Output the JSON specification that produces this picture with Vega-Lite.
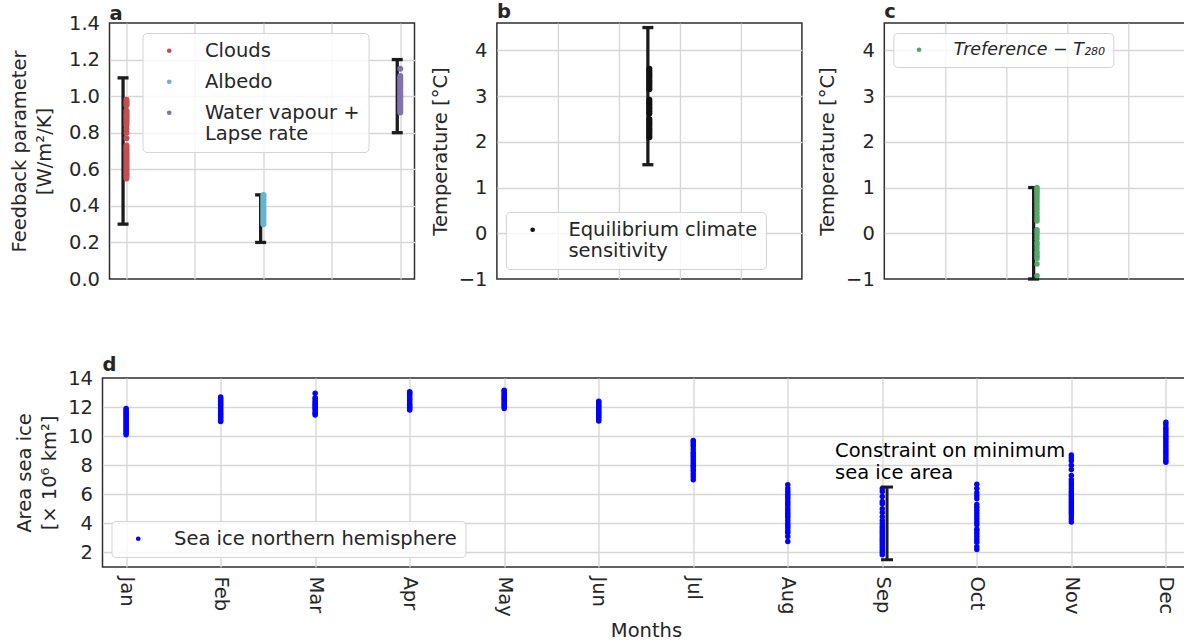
{
  "$schema": "https://vega.github.io/schema/vega-lite/v6.json",
  "padding": {"left": 8.5, "top": 0, "right": 0, "bottom": 2},
  "background": "white",
  "config": {
    "font": "DejaVu Sans",
    "view": {"stroke": "#2e2e2e", "strokeWidth": 1.5},
    "axis": {"grid": true, "gridColor": "#d6d6d6", "gridWidth": 1.3, "domain": false, "ticks": false, "tickSize": 0, "tickCount": 20, "labelFont": "DejaVu Sans", "labelFontSize": 19.5, "labelColor": "#262626", "titleFont": "DejaVu Sans", "titleFontSize": 19.5, "titleFontWeight": "normal", "titleColor": "#262626", "labelPadding": 10, "titlePadding": 8, "labelFlush": false, "labelOverlap": false},
    "legend": {"padding": 8, "fillColor": "rgba(255,255,255,0.8)", "strokeColor": "#d4d4d4", "cornerRadius": 4, "labelFont": "DejaVu Sans", "labelFontSize": 19.5, "labelColor": "#262626", "symbolOffset": 9, "labelOffset": 26, "symbolStrokeWidth": 0, "symbolSize": 22, "rowPadding": 10, "labelLimit": 500, "orient": "none"},
    "title": {"anchor": "start", "frame": "group", "fontSize": 19.5, "fontWeight": "bold", "color": "#262626", "offset": 1, "baseline": "alphabetic", "font": "DejaVu Sans"}
  },
  "spacing": 63,
  "align": "each",
  "resolve": {"scale": {"color": "independent"}, "legend": {"color": "independent"}},
  "vconcat": [
    {
      "bounds": "flush",
      "spacing": 0,
      "resolve": {"scale": {"color": "independent"}, "legend": {"color": "independent"}},
      "hconcat": [
        {"width": 7, "height": 10, "data": {"values": [{}]}, "mark": {"type": "point", "opacity": 0}, "view": {"stroke": null}},
        {
          "bounds": "flush",
          "spacing": 82.4,
          "resolve": {"scale": {"color": "independent"}, "legend": {"color": "independent"}},
          "hconcat": [
            {
              "title": {"text": "a", "offset": -11},
              "width": 305, "height": 256,
              "layer": [
                {
                  "data": {"values": [{"x": -0.025, "lo": 0.3, "hi": 1.1}, {"x": 0.98, "lo": 0.2, "hi": 0.46}, {"x": 1.978, "lo": 0.8, "hi": 1.2}]},
                  "mark": {"type": "rule", "color": "#1c1c1c", "strokeWidth": 3.3},
                  "encoding": {
                    "x": {"field": "x", "type": "quantitative", "scale": {"domain": [-0.124, 2.104], "nice": false, "zero": false}, "axis": {"values": [0, 0.5, 1, 1.5, 2], "labels": false, "title": null}},
                    "y": {"field": "lo", "type": "quantitative", "scale": {"domain": [0, 1.4], "nice": false, "zero": false}, "axis": {"values": [0, 0.2, 0.4, 0.6, 0.8, 1, 1.2, 1.4], "tickCount": 20, "format": ".1f", "labelOverlap": false, "title": ["Feedback parameter", "[W/m²/K]"], "titleLineHeight": 25, "titlePadding": 14, "gridOpacity": {"condition": {"test": "datum.value <= 0.001 || datum.value >= 1.399", "value": 0}, "value": 1}}},
                    "y2": {"field": "hi"}
                  }
                },
                {
                  "data": {"values": [{"x": -0.025, "lo": 0.3, "hi": 1.1}, {"x": 0.98, "lo": 0.2, "hi": 0.46}, {"x": 1.978, "lo": 0.8, "hi": 1.2}]},
                  "mark": {"type": "tick", "orient": "horizontal", "size": 11, "thickness": 3.3, "color": "#1c1c1c", "opacity": 1},
                  "encoding": {"x": {"field": "x", "type": "quantitative"}, "y": {"field": "lo", "type": "quantitative"}}
                },
                {
                  "data": {"values": [{"x": -0.025, "lo": 0.3, "hi": 1.1}, {"x": 0.98, "lo": 0.2, "hi": 0.46}, {"x": 1.978, "lo": 0.8, "hi": 1.2}]},
                  "mark": {"type": "tick", "orient": "horizontal", "size": 11, "thickness": 3.3, "color": "#1c1c1c", "opacity": 1},
                  "encoding": {"x": {"field": "x", "type": "quantitative"}, "y": {"field": "hi", "type": "quantitative"}}
                },
                {
                  "data": {"values": [
                    {"s": "Clouds", "x": 0, "v": 0.55}, {"s": "Clouds", "x": 0, "v": 0.56}, {"s": "Clouds", "x": 0, "v": 0.57}, {"s": "Clouds", "x": 0, "v": 0.58}, {"s": "Clouds", "x": 0, "v": 0.59}, {"s": "Clouds", "x": 0, "v": 0.6}, {"s": "Clouds", "x": 0, "v": 0.61}, {"s": "Clouds", "x": 0, "v": 0.62}, {"s": "Clouds", "x": 0, "v": 0.63}, {"s": "Clouds", "x": 0, "v": 0.64}, {"s": "Clouds", "x": 0, "v": 0.65}, {"s": "Clouds", "x": 0, "v": 0.66}, {"s": "Clouds", "x": 0, "v": 0.67}, {"s": "Clouds", "x": 0, "v": 0.68}, {"s": "Clouds", "x": 0, "v": 0.69}, {"s": "Clouds", "x": 0, "v": 0.7}, {"s": "Clouds", "x": 0, "v": 0.71}, {"s": "Clouds", "x": 0, "v": 0.72}, {"s": "Clouds", "x": 0, "v": 0.73}, {"s": "Clouds", "x": 0, "v": 0.77}, {"s": "Clouds", "x": 0, "v": 0.8}, {"s": "Clouds", "x": 0, "v": 0.82}, {"s": "Clouds", "x": 0, "v": 0.84}, {"s": "Clouds", "x": 0, "v": 0.85}, {"s": "Clouds", "x": 0, "v": 0.86}, {"s": "Clouds", "x": 0, "v": 0.87}, {"s": "Clouds", "x": 0, "v": 0.88}, {"s": "Clouds", "x": 0, "v": 0.89}, {"s": "Clouds", "x": 0, "v": 0.9}, {"s": "Clouds", "x": 0, "v": 0.91}, {"s": "Clouds", "x": 0, "v": 0.92}, {"s": "Clouds", "x": 0, "v": 0.95}, {"s": "Clouds", "x": 0, "v": 0.96}, {"s": "Clouds", "x": 0, "v": 0.97}, {"s": "Clouds", "x": 0, "v": 0.98},
                    {"s": "Albedo", "x": 1, "v": 0.3}, {"s": "Albedo", "x": 1, "v": 0.31}, {"s": "Albedo", "x": 1, "v": 0.32}, {"s": "Albedo", "x": 1, "v": 0.33}, {"s": "Albedo", "x": 1, "v": 0.34}, {"s": "Albedo", "x": 1, "v": 0.35}, {"s": "Albedo", "x": 1, "v": 0.36}, {"s": "Albedo", "x": 1, "v": 0.37}, {"s": "Albedo", "x": 1, "v": 0.38}, {"s": "Albedo", "x": 1, "v": 0.39}, {"s": "Albedo", "x": 1, "v": 0.4}, {"s": "Albedo", "x": 1, "v": 0.41}, {"s": "Albedo", "x": 1, "v": 0.42}, {"s": "Albedo", "x": 1, "v": 0.43}, {"s": "Albedo", "x": 1, "v": 0.44}, {"s": "Albedo", "x": 1, "v": 0.45}, {"s": "Albedo", "x": 1, "v": 0.46},
                    {"s": "Water vapour + Lapse rate", "x": 2, "v": 0.91}, {"s": "Water vapour + Lapse rate", "x": 2, "v": 0.92}, {"s": "Water vapour + Lapse rate", "x": 2, "v": 0.93}, {"s": "Water vapour + Lapse rate", "x": 2, "v": 0.94}, {"s": "Water vapour + Lapse rate", "x": 2, "v": 0.95}, {"s": "Water vapour + Lapse rate", "x": 2, "v": 0.96}, {"s": "Water vapour + Lapse rate", "x": 2, "v": 0.97}, {"s": "Water vapour + Lapse rate", "x": 2, "v": 0.98}, {"s": "Water vapour + Lapse rate", "x": 2, "v": 0.99}, {"s": "Water vapour + Lapse rate", "x": 2, "v": 1.0}, {"s": "Water vapour + Lapse rate", "x": 2, "v": 1.01}, {"s": "Water vapour + Lapse rate", "x": 2, "v": 1.02}, {"s": "Water vapour + Lapse rate", "x": 2, "v": 1.03}, {"s": "Water vapour + Lapse rate", "x": 2, "v": 1.04}, {"s": "Water vapour + Lapse rate", "x": 2, "v": 1.05}, {"s": "Water vapour + Lapse rate", "x": 2, "v": 1.06}, {"s": "Water vapour + Lapse rate", "x": 2, "v": 1.07}, {"s": "Water vapour + Lapse rate", "x": 2, "v": 1.08}, {"s": "Water vapour + Lapse rate", "x": 2, "v": 1.09}, {"s": "Water vapour + Lapse rate", "x": 2, "v": 1.1}, {"s": "Water vapour + Lapse rate", "x": 2, "v": 1.11}, {"s": "Water vapour + Lapse rate", "x": 2, "v": 1.15}
                  ]},
                  "mark": {"type": "circle", "size": 36, "opacity": 1},
                  "encoding": {
                    "x": {"field": "x", "type": "quantitative"},
                    "y": {"field": "v", "type": "quantitative"},
                    "color": {"field": "s", "type": "nominal", "sort": null, "scale": {"domain": ["Clouds", "Albedo", "Water vapour + Lapse rate"], "range": ["#C44E52", "#64B5CD", "#8172B2"]}, "legend": {"title": null, "orient": "none", "legendX": 33, "legendY": 10, "labelExpr": "datum.label == 'Water vapour + Lapse rate' ? ['Water vapour +', 'Lapse rate'] : datum.label", "encode": {"labels": {"update": {"lineHeight": {"value": 22}}}}}}
                  }
                }
              ]
            },
            {
              "title": {"text": "b"},
              "width": 305, "height": 256,
              "layer": [
                {
                  "data": {"values": [{"x": 2.475, "lo": 1.5, "hi": 4.5}]},
                  "mark": {"type": "rule", "color": "#1c1c1c", "strokeWidth": 3.3},
                  "encoding": {
                    "x": {"field": "x", "type": "quantitative", "scale": {"domain": [0, 5], "nice": false, "zero": false}, "axis": {"values": [1, 2, 3, 4], "labels": false, "title": null}},
                    "y": {"field": "lo", "type": "quantitative", "scale": {"domain": [-1, 4.6], "nice": false, "zero": false}, "axis": {"values": [-1, 0, 1, 2, 3, 4], "format": "d", "tickCount": 20, "labelOverlap": false, "title": "Temperature [°C]", "gridOpacity": {"condition": {"test": "datum.value <= -1", "value": 0}, "value": 1}}},
                    "y2": {"field": "hi"}
                  }
                },
                {
                  "data": {"values": [{"x": 2.475, "lo": 1.5, "hi": 4.5}]},
                  "mark": {"type": "tick", "orient": "horizontal", "size": 11, "thickness": 3.3, "color": "#1c1c1c", "opacity": 1},
                  "encoding": {"x": {"field": "x", "type": "quantitative"}, "y": {"field": "lo", "type": "quantitative"}}
                },
                {
                  "data": {"values": [{"x": 2.475, "lo": 1.5, "hi": 4.5}]},
                  "mark": {"type": "tick", "orient": "horizontal", "size": 11, "thickness": 3.3, "color": "#1c1c1c", "opacity": 1},
                  "encoding": {"x": {"field": "x", "type": "quantitative"}, "y": {"field": "hi", "type": "quantitative"}}
                },
                {
                  "data": {"values": [
                    {"x": 2.5, "v": 2.1}, {"x": 2.5, "v": 2.15}, {"x": 2.5, "v": 2.2}, {"x": 2.5, "v": 2.25}, {"x": 2.5, "v": 2.3}, {"x": 2.5, "v": 2.35}, {"x": 2.5, "v": 2.4}, {"x": 2.5, "v": 2.45}, {"x": 2.5, "v": 2.5}, {"x": 2.5, "v": 2.62}, {"x": 2.5, "v": 2.67}, {"x": 2.5, "v": 2.72}, {"x": 2.5, "v": 2.77}, {"x": 2.5, "v": 2.82}, {"x": 2.5, "v": 2.87}, {"x": 2.5, "v": 2.92}, {"x": 2.5, "v": 3.15}, {"x": 2.5, "v": 3.2}, {"x": 2.5, "v": 3.25}, {"x": 2.5, "v": 3.3}, {"x": 2.5, "v": 3.35}, {"x": 2.5, "v": 3.4}, {"x": 2.5, "v": 3.45}, {"x": 2.5, "v": 3.5}, {"x": 2.5, "v": 3.55}, {"x": 2.5, "v": 3.6}
                  ]},
                  "mark": {"type": "circle", "size": 36, "opacity": 1},
                  "encoding": {
                    "x": {"field": "x", "type": "quantitative"},
                    "y": {"field": "v", "type": "quantitative"},
                    "color": {"datum": "Equilibrium climate sensitivity", "type": "nominal", "scale": {"range": ["#111111"]}, "legend": {"title": null, "orient": "none", "legendX": 9, "legendY": 189, "labelExpr": "['Equilibrium climate', 'sensitivity']", "encode": {"labels": {"update": {"lineHeight": {"value": 22}}}}}}
                  }
                }
              ]
            },
            {
              "title": {"text": "c"},
              "width": 305, "height": 256,
              "layer": [
                {
                  "data": {"values": [{"x": 2.448, "lo": -1, "hi": 1}]},
                  "mark": {"type": "rule", "color": "#1c1c1c", "strokeWidth": 3.3},
                  "encoding": {
                    "x": {"field": "x", "type": "quantitative", "scale": {"domain": [0, 5], "nice": false, "zero": false}, "axis": {"values": [1, 2, 3, 4], "labels": false, "title": null}},
                    "y": {"field": "lo", "type": "quantitative", "scale": {"domain": [-1, 4.6], "nice": false, "zero": false}, "axis": {"values": [-1, 0, 1, 2, 3, 4], "format": "d", "tickCount": 20, "labelOverlap": false, "title": "Temperature [°C]", "gridOpacity": {"condition": {"test": "datum.value <= -1", "value": 0}, "value": 1}}},
                    "y2": {"field": "hi"}
                  }
                },
                {
                  "data": {"values": [{"x": 2.448, "lo": -1, "hi": 1}]},
                  "mark": {"type": "tick", "orient": "horizontal", "size": 11, "thickness": 3.3, "color": "#1c1c1c", "opacity": 1},
                  "encoding": {"x": {"field": "x", "type": "quantitative"}, "y": {"field": "lo", "type": "quantitative"}}
                },
                {
                  "data": {"values": [{"x": 2.448, "lo": -1, "hi": 1}]},
                  "mark": {"type": "tick", "orient": "horizontal", "size": 11, "thickness": 3.3, "color": "#1c1c1c", "opacity": 1},
                  "encoding": {"x": {"field": "x", "type": "quantitative"}, "y": {"field": "hi", "type": "quantitative"}}
                },
                {
                  "data": {"values": [
                    {"x": 2.503, "v": -0.93}, {"x": 2.503, "v": -0.67}, {"x": 2.503, "v": -0.55}, {"x": 2.503, "v": -0.5}, {"x": 2.503, "v": -0.45}, {"x": 2.503, "v": -0.4}, {"x": 2.503, "v": -0.32}, {"x": 2.503, "v": -0.25}, {"x": 2.503, "v": -0.2}, {"x": 2.503, "v": -0.12}, {"x": 2.503, "v": -0.05}, {"x": 2.503, "v": 0.02}, {"x": 2.503, "v": 0.08}, {"x": 2.503, "v": 0.27}, {"x": 2.503, "v": 0.32}, {"x": 2.503, "v": 0.38}, {"x": 2.503, "v": 0.45}, {"x": 2.503, "v": 0.52}, {"x": 2.503, "v": 0.58}, {"x": 2.503, "v": 0.64}, {"x": 2.503, "v": 0.7}, {"x": 2.503, "v": 0.76}, {"x": 2.503, "v": 0.82}, {"x": 2.503, "v": 0.87}, {"x": 2.503, "v": 0.92}, {"x": 2.503, "v": 0.96}, {"x": 2.503, "v": 1.0}
                  ]},
                  "mark": {"type": "circle", "size": 30, "opacity": 1},
                  "encoding": {
                    "x": {"field": "x", "type": "quantitative"},
                    "y": {"field": "v", "type": "quantitative"},
                    "color": {"datum": "Treference − T₂₈₀", "type": "nominal", "scale": {"range": ["#55A868"]}, "legend": {"title": null, "orient": "none", "legendX": 9, "legendY": 10, "labelFontStyle": "italic", "labelFontSize": 17.5}}
                  }
                }
              ]
            }
          ]
        }
      ]
    },
    {
      "title": {"text": "d", "offset": -7},
      "width": 1087, "height": 189,
      "layer": [
        {
          "data": {"values": [
            {"m": 0, "v": 10.1}, {"m": 0, "v": 10.2}, {"m": 0, "v": 10.3}, {"m": 0, "v": 10.4}, {"m": 0, "v": 10.5}, {"m": 0, "v": 10.6}, {"m": 0, "v": 10.7}, {"m": 0, "v": 10.8}, {"m": 0, "v": 10.9}, {"m": 0, "v": 11.0}, {"m": 0, "v": 11.1}, {"m": 0, "v": 11.2}, {"m": 0, "v": 11.3}, {"m": 0, "v": 11.4}, {"m": 0, "v": 11.5}, {"m": 0, "v": 11.6}, {"m": 0, "v": 11.7}, {"m": 0, "v": 11.8}, {"m": 0, "v": 11.9},
            {"m": 1, "v": 11.0}, {"m": 1, "v": 11.1}, {"m": 1, "v": 11.2}, {"m": 1, "v": 11.3}, {"m": 1, "v": 11.4}, {"m": 1, "v": 11.5}, {"m": 1, "v": 11.6}, {"m": 1, "v": 11.7}, {"m": 1, "v": 11.8}, {"m": 1, "v": 11.9}, {"m": 1, "v": 12.0}, {"m": 1, "v": 12.1}, {"m": 1, "v": 12.2}, {"m": 1, "v": 12.3}, {"m": 1, "v": 12.4}, {"m": 1, "v": 12.5}, {"m": 1, "v": 12.6}, {"m": 1, "v": 12.7},
            {"m": 2, "v": 11.45}, {"m": 2, "v": 11.55}, {"m": 2, "v": 11.65}, {"m": 2, "v": 11.8}, {"m": 2, "v": 11.9}, {"m": 2, "v": 12.0}, {"m": 2, "v": 12.1}, {"m": 2, "v": 12.2}, {"m": 2, "v": 12.3}, {"m": 2, "v": 12.4}, {"m": 2, "v": 12.55}, {"m": 2, "v": 12.65}, {"m": 2, "v": 12.95},
            {"m": 3, "v": 11.8}, {"m": 3, "v": 11.9}, {"m": 3, "v": 12.0}, {"m": 3, "v": 12.1}, {"m": 3, "v": 12.2}, {"m": 3, "v": 12.3}, {"m": 3, "v": 12.45}, {"m": 3, "v": 12.55}, {"m": 3, "v": 12.65}, {"m": 3, "v": 12.8}, {"m": 3, "v": 12.9}, {"m": 3, "v": 13.0}, {"m": 3, "v": 13.05},
            {"m": 4, "v": 11.9}, {"m": 4, "v": 12.0}, {"m": 4, "v": 12.1}, {"m": 4, "v": 12.2}, {"m": 4, "v": 12.3}, {"m": 4, "v": 12.4}, {"m": 4, "v": 12.5}, {"m": 4, "v": 12.6}, {"m": 4, "v": 12.7}, {"m": 4, "v": 12.8}, {"m": 4, "v": 12.9}, {"m": 4, "v": 13.0}, {"m": 4, "v": 13.1}, {"m": 4, "v": 13.15},
            {"m": 5, "v": 11.05}, {"m": 5, "v": 11.15}, {"m": 5, "v": 11.25}, {"m": 5, "v": 11.35}, {"m": 5, "v": 11.45}, {"m": 5, "v": 11.55}, {"m": 5, "v": 11.65}, {"m": 5, "v": 11.75}, {"m": 5, "v": 11.85}, {"m": 5, "v": 11.95}, {"m": 5, "v": 12.05}, {"m": 5, "v": 12.15}, {"m": 5, "v": 12.25}, {"m": 5, "v": 12.35}, {"m": 5, "v": 12.4},
            {"m": 6, "v": 7.0}, {"m": 6, "v": 7.2}, {"m": 6, "v": 7.4}, {"m": 6, "v": 7.6}, {"m": 6, "v": 7.75}, {"m": 6, "v": 7.9}, {"m": 6, "v": 8.0}, {"m": 6, "v": 8.15}, {"m": 6, "v": 8.3}, {"m": 6, "v": 8.45}, {"m": 6, "v": 8.6}, {"m": 6, "v": 8.75}, {"m": 6, "v": 8.9}, {"m": 6, "v": 9.1}, {"m": 6, "v": 9.3}, {"m": 6, "v": 9.45}, {"m": 6, "v": 9.6}, {"m": 6, "v": 9.7},
            {"m": 7, "v": 2.75}, {"m": 7, "v": 3.1}, {"m": 7, "v": 3.35}, {"m": 7, "v": 3.5}, {"m": 7, "v": 3.7}, {"m": 7, "v": 3.85}, {"m": 7, "v": 4.0}, {"m": 7, "v": 4.2}, {"m": 7, "v": 4.4}, {"m": 7, "v": 4.55}, {"m": 7, "v": 4.7}, {"m": 7, "v": 4.85}, {"m": 7, "v": 5.0}, {"m": 7, "v": 5.2}, {"m": 7, "v": 5.35}, {"m": 7, "v": 5.5}, {"m": 7, "v": 5.7}, {"m": 7, "v": 5.85}, {"m": 7, "v": 6.0}, {"m": 7, "v": 6.2}, {"m": 7, "v": 6.4}, {"m": 7, "v": 6.65},
            {"m": 8, "v": 1.85}, {"m": 8, "v": 2.0}, {"m": 8, "v": 2.15}, {"m": 8, "v": 2.3}, {"m": 8, "v": 2.45}, {"m": 8, "v": 2.6}, {"m": 8, "v": 2.75}, {"m": 8, "v": 2.9}, {"m": 8, "v": 3.05}, {"m": 8, "v": 3.2}, {"m": 8, "v": 3.35}, {"m": 8, "v": 3.5}, {"m": 8, "v": 3.65}, {"m": 8, "v": 3.8}, {"m": 8, "v": 4.0}, {"m": 8, "v": 4.2}, {"m": 8, "v": 4.45}, {"m": 8, "v": 4.75}, {"m": 8, "v": 5.0}, {"m": 8, "v": 5.35}, {"m": 8, "v": 5.5}, {"m": 8, "v": 5.85}, {"m": 8, "v": 6.2}, {"m": 8, "v": 6.4},
            {"m": 9, "v": 2.2}, {"m": 9, "v": 2.4}, {"m": 9, "v": 2.7}, {"m": 9, "v": 2.9}, {"m": 9, "v": 3.1}, {"m": 9, "v": 3.3}, {"m": 9, "v": 3.5}, {"m": 9, "v": 3.6}, {"m": 9, "v": 3.9}, {"m": 9, "v": 4.1}, {"m": 9, "v": 4.3}, {"m": 9, "v": 4.5}, {"m": 9, "v": 4.7}, {"m": 9, "v": 4.9}, {"m": 9, "v": 5.1}, {"m": 9, "v": 5.3}, {"m": 9, "v": 5.7}, {"m": 9, "v": 5.9}, {"m": 9, "v": 6.1}, {"m": 9, "v": 6.4}, {"m": 9, "v": 6.7},
            {"m": 10, "v": 4.1}, {"m": 10, "v": 4.3}, {"m": 10, "v": 4.5}, {"m": 10, "v": 4.7}, {"m": 10, "v": 4.85}, {"m": 10, "v": 5.0}, {"m": 10, "v": 5.15}, {"m": 10, "v": 5.3}, {"m": 10, "v": 5.45}, {"m": 10, "v": 5.6}, {"m": 10, "v": 5.75}, {"m": 10, "v": 5.9}, {"m": 10, "v": 6.05}, {"m": 10, "v": 6.2}, {"m": 10, "v": 6.4}, {"m": 10, "v": 6.6}, {"m": 10, "v": 6.8}, {"m": 10, "v": 7.0}, {"m": 10, "v": 7.3}, {"m": 10, "v": 7.7}, {"m": 10, "v": 8.0}, {"m": 10, "v": 8.3}, {"m": 10, "v": 8.5}, {"m": 10, "v": 8.7},
            {"m": 11, "v": 8.2}, {"m": 11, "v": 8.35}, {"m": 11, "v": 8.5}, {"m": 11, "v": 8.65}, {"m": 11, "v": 8.8}, {"m": 11, "v": 8.95}, {"m": 11, "v": 9.1}, {"m": 11, "v": 9.25}, {"m": 11, "v": 9.4}, {"m": 11, "v": 9.55}, {"m": 11, "v": 9.7}, {"m": 11, "v": 9.85}, {"m": 11, "v": 10.0}, {"m": 11, "v": 10.15}, {"m": 11, "v": 10.3}, {"m": 11, "v": 10.45}, {"m": 11, "v": 10.6}, {"m": 11, "v": 10.8}, {"m": 11, "v": 10.95}
          ]},
          "mark": {"type": "circle", "size": 30, "opacity": 1},
          "encoding": {
            "x": {"field": "m", "type": "quantitative", "scale": {"domain": [-0.25, 11.25], "nice": false, "zero": false}, "axis": {"values": [0, 1, 2, 3, 4, 5, 6, 7, 8, 9, 10, 11], "tickCount": 20, "labelExpr": "['Jan','Feb','Mar','Apr','May','Jun','Jul','Aug','Sep','Oct','Nov','Dec'][datum.value]", "labelAngle": 90, "labelOverlap": false, "title": "Months", "labelPadding": 9, "titlePadding": 5}},
            "y": {"field": "v", "type": "quantitative", "scale": {"domain": [1, 14], "nice": false, "zero": false}, "axis": {"values": [2, 4, 6, 8, 10, 12, 14], "format": "d", "tickCount": 20, "labelOverlap": false, "title": ["Area sea ice", "[× 10⁶ km²]"], "titleLineHeight": 25, "titlePadding": 8, "gridOpacity": {"condition": {"test": "datum.value >= 14", "value": 0}, "value": 1}}},
            "color": {"datum": "Sea ice northern hemisphere", "type": "nominal", "scale": {"range": ["#0000FF"]}, "legend": {"title": null, "orient": "none", "legendX": 9, "legendY": 143}}
          }
        },
        {
          "data": {"values": [{"m": 8.05, "lo": 1.5, "hi": 6.5}]},
          "mark": {"type": "rule", "color": "#1c1c1c", "strokeWidth": 3},
          "encoding": {"x": {"field": "m", "type": "quantitative"}, "y": {"field": "lo", "type": "quantitative"}, "y2": {"field": "hi"}}
        },
        {
          "data": {"values": [{"m": 8.05, "lo": 1.5, "hi": 6.5}]},
          "mark": {"type": "tick", "orient": "horizontal", "size": 12, "thickness": 3, "color": "#1c1c1c", "opacity": 1},
          "encoding": {"x": {"field": "m", "type": "quantitative"}, "y": {"field": "lo", "type": "quantitative"}}
        },
        {
          "data": {"values": [{"m": 8.05, "lo": 1.5, "hi": 6.5}]},
          "mark": {"type": "tick", "orient": "horizontal", "size": 12, "thickness": 3, "color": "#1c1c1c", "opacity": 1},
          "encoding": {"x": {"field": "m", "type": "quantitative"}, "y": {"field": "hi", "type": "quantitative"}}
        },
        {
          "data": {"values": [{"m": 7.5, "v": 8.58, "label": "Constraint on minimum\nsea ice area"}]},
          "mark": {"type": "text", "align": "left", "baseline": "alphabetic", "fontSize": 19.5, "color": "#000000", "lineBreak": "\n", "lineHeight": 22.6, "font": "DejaVu Sans"},
          "encoding": {"x": {"field": "m", "type": "quantitative"}, "y": {"field": "v", "type": "quantitative"}, "text": {"field": "label"}}
        }
      ]
    }
  ]
}
